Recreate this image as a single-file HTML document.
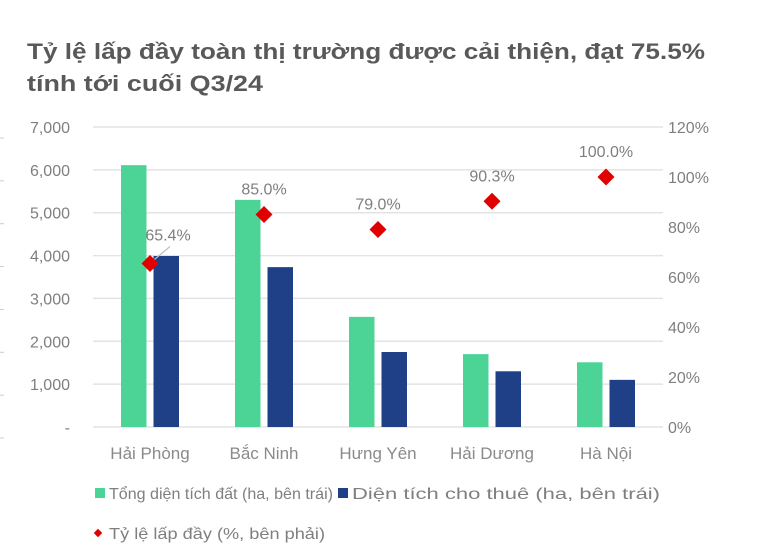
<!DOCTYPE html>
<html><head><meta charset="utf-8">
<style>
html,body{margin:0;padding:0;background:#fff;}
svg{display:block;font-family:"Liberation Sans","DejaVu Sans",sans-serif;}
</style></head>
<body>
<svg id="chart" width="758" height="558" viewBox="0 0 758 558" xmlns="http://www.w3.org/2000/svg">
  <text x="27" y="59" font-size="22" font-weight="bold" fill="#595959" textLength="678" lengthAdjust="spacingAndGlyphs">Tỷ lệ lấp đầy toàn thị trường được cải thiện, đạt 75.5%</text>
  <text x="27" y="91" font-size="22" font-weight="bold" fill="#595959" textLength="236" lengthAdjust="spacingAndGlyphs">tính tới cuối Q3/24</text>
  <g id="grid"></g>
  <g id="bars"></g>
  <g id="markers"></g>
  <g id="axes"></g>
  <g>
    <rect x="95" y="488" width="10" height="10" fill="#4cd497"/>
    <text x="109" y="499" font-size="16" fill="#7f7f7f" textLength="224" lengthAdjust="spacingAndGlyphs">Tổng diện tích đất (ha, bên trái)</text>
    <rect x="338" y="488" width="10" height="10" fill="#1f3f86"/>
    <text x="352" y="499" font-size="16" fill="#7f7f7f" textLength="308" lengthAdjust="spacingAndGlyphs">Diện tích cho thuê (ha, bên trái)</text>
    <rect x="95" y="530" width="6" height="6" fill="#e00000" transform="rotate(45 98 533)"/>
    <text x="109" y="539" font-size="16" fill="#7f7f7f" textLength="216" lengthAdjust="spacingAndGlyphs">Tỷ lệ lấp đầy (%, bên phải)</text>
  </g>
</svg>
<script>
const categories = ["Hải Phòng","Bắc Ninh","Hưng Yên","Hải Dương","Hà Nội"];
const totalLand = [6110, 5300, 2570, 1700, 1510];
const leasedArea = [3990, 3730, 1750, 1300, 1100];
const occupancy = [65.4, 85.0, 79.0, 90.3, 100.0];
const occupancyLabels = ["65.4%","85.0%","79.0%","90.3%","100.0%"];
const leftTicks = [0,1000,2000,3000,4000,5000,6000,7000];
const leftTickLabels = ["-","1,000","2,000","3,000","4,000","5,000","6,000","7,000"];
const rightTicks = [0,20,40,60,80,100,120];
const rightTickLabels = ["0%","20%","40%","60%","80%","100%","120%"];

const NS = "http://www.w3.org/2000/svg";
const plotL = 93, plotR = 663, plotT = 127, plotB = 427;
const yL = v => plotB - (v/7000)*(plotB-plotT);
const yR = v => plotB - (v/120)*(plotB-plotT);
const band = (plotR-plotL)/categories.length;
const xC = i => plotL + band*(i+0.5);
function mk(tag, attrs, parent){const e=document.createElementNS(NS,tag);for(const k in attrs)e.setAttribute(k,attrs[k]);parent.appendChild(e);return e;}

const grid = document.getElementById('grid');
const axes = document.getElementById('axes');
leftTicks.forEach((t,i)=>{
  const g = mk('line',{x1:plotL,x2:plotR,y1:yL(t),y2:yL(t),stroke:'#e3e3e3','stroke-width':1.5},grid);
  
  
  const tx = mk('text',{x:70,y:yL(t)+6,'text-anchor':'end','font-size':16,fill:'#7f7f7f'},axes);
  tx.textContent = leftTickLabels[i];
  
  
  const m = mk('line',{x1:0,x2:4,y1:yL(t)+11,y2:yL(t)+11,stroke:'#cccccc','stroke-width':1},axes);
  
  
});
rightTicks.forEach((t,i)=>{
  const tx = mk('text',{x:668,y:yR(t)+6,'font-size':16,fill:'#7f7f7f'},axes);
  tx.textContent = rightTickLabels[i];
  
  
});
categories.forEach((c,i)=>{
  const tx = mk('text',{x:xC(i),y:459,'text-anchor':'middle','font-size':17,fill:'#8a8a8a'},axes);
  tx.textContent = c;
  
  
});

const bars = document.getElementById('bars');
const bw = 25.5;
categories.forEach((c,i)=>{
  const b1 = mk('rect',{x:xC(i)-29,y:yL(totalLand[i]),width:bw,height:plotB-yL(totalLand[i]),fill:'#4cd497'},bars);
  
  
  const b2 = mk('rect',{x:xC(i)+3.5,y:yL(leasedArea[i]),width:bw,height:plotB-yL(leasedArea[i]),fill:'#1f3f86'},bars);
  
  
});

const markers = document.getElementById('markers');
occupancy.forEach((v,i)=>{
  const x = xC(i), y = yR(v);
  let lx = x, ly = y - 20;
  if(i===0){ lx = x+18; ly = y-23;
    const ld = mk('line',{x1:x+2,y1:y-2,x2:x+20,y2:y-17,stroke:'#bfbfbf','stroke-width':1.2},markers);
    
    
  }
  const d = mk('rect',{x:x-6,y:y-6,width:12,height:12,fill:'#e00000',transform:`rotate(45 ${x} ${y})`},markers);
  
  
  const t = mk('text',{x:lx,y:ly,'text-anchor':'middle','font-size':16,fill:'#7f7f7f'},markers);
  t.textContent = occupancyLabels[i];
  
  
});
</script>
</body></html>
